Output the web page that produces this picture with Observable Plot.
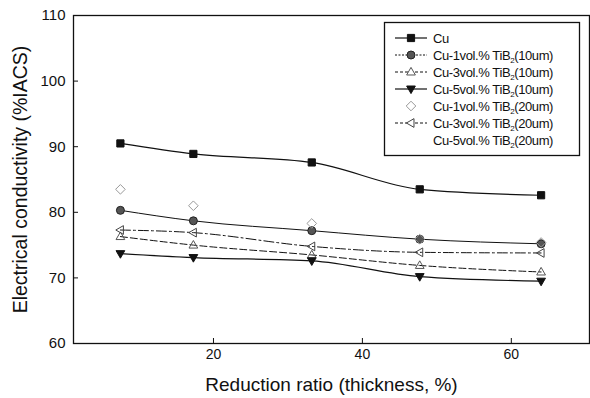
<!DOCTYPE html>
<html>
<head>
<meta charset="utf-8">
<script src="https://cdn.jsdelivr.net/npm/d3@7"></script>
<script src="https://cdn.jsdelivr.net/npm/@observablehq/plot@0.6"></script>
<style>
  body { margin: 0; background: #fff; }
  #chart svg { font-family: "Liberation Sans", Arial, sans-serif; }
</style>
</head>
<body>
<div id="chart"></div>
<script>
// ---- data ----
const reduction = [7.5, 17.3, 33.2, 47.7, 64.0];
const cu        = [90.5, 88.9, 87.6, 83.5, 82.6];
const cu1v10    = [80.3, 78.7, 77.2, 75.9, 75.2];
const cu3v10    = [76.3, 75.0, 73.5, 71.9, 70.9];
const cu5v10    = [73.7, 73.1, 72.6, 70.2, 69.5];
const cu1v20    = [83.5, 81.0, 78.3, 75.9, 75.4];
const cu3v20    = [77.3, 76.9, 74.8, 73.9, 73.8];
const cu5v20    = [];
const yTicks = [60, 70, 80, 90, 100, 110];
const xTicks = [20, 40, 60];
const seriesNames = [
  ["Cu", ""],
  ["Cu-1vol.% TiB", "(10um)"],
  ["Cu-3vol.% TiB", "(10um)"],
  ["Cu-5vol.% TiB", "(10um)"],
  ["Cu-1vol.% TiB", "(20um)"],
  ["Cu-3vol.% TiB", "(20um)"],
  ["Cu-5vol.% TiB", "(20um)"]
];
const seriesValues = [cu, cu1v10, cu3v10, cu5v10, cu1v20, cu3v20, cu5v20];

// ---- custom symbols ----
const triUp = {draw(c, size) { const r = Math.sqrt(size / Math.PI) * 1.15;
  c.moveTo(0, -r); c.lineTo(r * 0.95, r * 0.65); c.lineTo(-r * 0.95, r * 0.65); c.closePath(); }};
const triDown = {draw(c, size) { const r = Math.sqrt(size / Math.PI) * 1.15;
  c.moveTo(0, r); c.lineTo(r * 0.95, -r * 0.65); c.lineTo(-r * 0.95, -r * 0.65); c.closePath(); }};
const triLeft = {draw(c, size) { const r = Math.sqrt(size / Math.PI) * 1.15;
  c.moveTo(-r, 0); c.lineTo(r * 0.65, -r * 0.95); c.lineTo(r * 0.65, r * 0.95); c.closePath(); }};
const sq = {draw(c, size) { const r = Math.sqrt(size / Math.PI) * 0.9; c.rect(-r, -r, 2 * r, 2 * r); }};
const dia = {draw(c, size) { const r = Math.sqrt(size / Math.PI) * 1.2;
  c.moveTo(0, -r); c.lineTo(r, 0); c.lineTo(0, r); c.lineTo(-r, 0); c.closePath(); }};

// ---- styles (per series) ----
const styles = [
  {symbol: sq,      fill: "#111", stroke: "#111", line: true,  dash: null,        lw: 1.2},
  {symbol: "circle",fill: "#555", stroke: "#222", line: true,  dash: null,        lw: 1.0},
  {symbol: triUp,   fill: "none", stroke: "#555", line: true,  dash: "7,3",       lw: 1.0},
  {symbol: triDown, fill: "#111", stroke: "#111", line: true,  dash: null,        lw: 1.2},
  {symbol: dia,     fill: "none", stroke: "#999", line: false, dash: null,        lw: 1.0},
  {symbol: triLeft, fill: "none", stroke: "#444", line: true,  dash: "10,3,2,3",  lw: 1.0},
  {symbol: null,    fill: "none", stroke: "#444", line: false, dash: null,        lw: 1.0}
];

const rows = [];
seriesValues.forEach((vals, si) => vals.forEach((v, i) => rows.push({s: si, x: reduction[i], y: v})));

const marks = [];
styles.forEach((st, si) => {
  const d = rows.filter(r => r.s === si);
  if (!d.length) return;
  if (st.line) marks.push(Plot.line(d, {x: "x", y: "y", curve: "monotone-x", stroke: "#111",
    strokeWidth: st.lw, strokeDasharray: st.dash}));
});
styles.forEach((st, si) => {
  const d = rows.filter(r => r.s === si);
  if (!d.length || !st.symbol) return;
  marks.push(Plot.dot(d, {x: "x", y: "y", r: 4, symbol: () => st.symbol, fill: st.fill,
    stroke: st.stroke, strokeWidth: 1}));
});

const plot = Plot.plot({
  width: 590, height: 398,
  marginLeft: 73, marginRight: 1, marginTop: 15, marginBottom: 55,
  style: {fontFamily: "Liberation Sans, Arial, sans-serif", background: "#fff", color: "#111"},
  x: {domain: [1.2, 70.5]},
  y: {domain: [60, 110]},
  symbol: {type: "identity"},
  marks: [
    Plot.frame({stroke: "#111", strokeWidth: 1.3}),
    Plot.axisX({ticks: xTicks, tickSize: 0, tickPadding: 6, fontSize: 14, label: null}),
    Plot.axisX({ticks: xTicks, tickSize: -5, tickFormat: () => "", label: null}),
    Plot.axisY({ticks: yTicks, tickSize: 0, tickPadding: 8, fontSize: 15, label: null}),
    Plot.axisY({ticks: yTicks, tickSize: -5, tickFormat: () => "", label: null}),
    Plot.text(["Reduction ratio (thickness, %)"], {frameAnchor: "bottom", dy: 41, fontSize: 19, lineAnchor: "middle", fill: "#111"}),
    Plot.text(["Electrical conductivity (%IACS)"], {frameAnchor: "left", dx: -53, rotate: -90, fontSize: 19.5, textAnchor: "middle", lineAnchor: "middle", fill: "#111"}),
    ...marks
  ]
});
document.getElementById("chart").appendChild(plot);

// ---- legend overlay ----
const svg = d3.select(plot);
const lg = svg.append("g").attr("font-family", "Liberation Sans, Arial, sans-serif").attr("text-anchor", "start");
lg.append("rect").attr("x", 384.5).attr("y", 22.5).attr("width", 195).attr("height", 133)
  .attr("fill", "#fff").attr("stroke", "#111").attr("stroke-width", 1.3);
seriesNames.forEach((nm, i) => {
  const st = styles[i];
  const y = 38 + i * 17;
  if (st.line) {
    lg.append("line").attr("x1", 395).attr("x2", 427).attr("y1", y).attr("y2", y)
      .attr("stroke", "#111").attr("stroke-width", st.lw).attr("stroke-dasharray", st.dash ? "3,2" : (i === 1 ? "2,1.5" : null));
  }
  if (st.symbol) {
    const type = st.symbol === "circle" ? d3.symbolCircle : st.symbol;
    lg.append("path").attr("transform", `translate(411,${y})`)
      .attr("d", d3.symbol(type, Math.PI * 16)())
      .attr("fill", st.fill === "none" ? "#fff" : st.fill).attr("stroke", st.stroke).attr("stroke-width", 1);
  }
  const t = lg.append("text").attr("x", 433).attr("y", y).attr("dy", "0.35em").attr("text-anchor", "start")
    .attr("font-size", 13).attr("fill", "#111").attr("letter-spacing", -0.4);
  t.append("tspan").text(nm[0]);
  if (nm[1]) {
    t.append("tspan").attr("font-size", 8).attr("dy", 3).text("2");
    t.append("tspan").attr("dy", -3).text(nm[1]);
  }
});
</script>
</body>
</html>
